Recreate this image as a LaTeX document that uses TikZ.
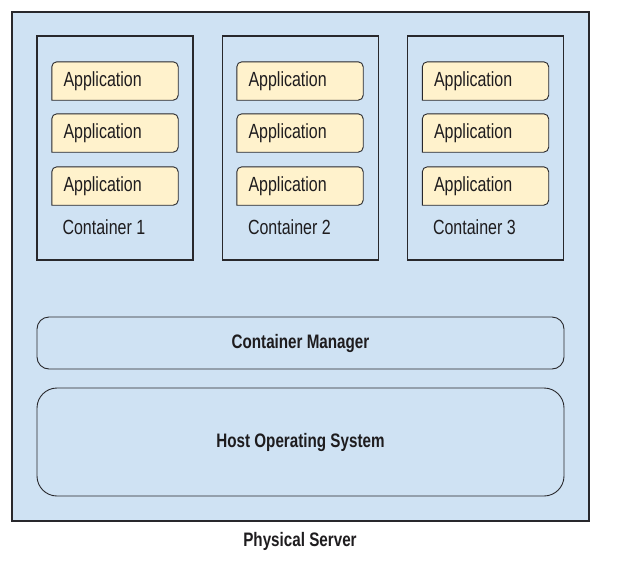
\documentclass[tikz,border=0pt]{standalone}
\usepackage{xcolor}
\usepackage{fontspec}
\setmainfont[FakeStretch=0.78]{Liberation Sans}
\usepackage{tikz}

\definecolor{serverblue}{RGB}{207,226,243}
\definecolor{appyellow}{RGB}{255,242,204}
\definecolor{edgegray}{RGB}{40,40,44}
\definecolor{inkgray}{RGB}{30,28,30}

\begin{document}
\begin{tikzpicture}[x=1pt, y=-1pt, text=inkgray,
		every node/.style={font=\fontsize{20.5}{23}\selectfont},
		server/.style={rectangle, draw=edgegray, line width=1.8pt, fill=serverblue, minimum width=577pt, minimum height=509pt, inner sep=0pt},
		container/.style={rectangle, draw=edgegray, line width=1.3pt, minimum width=156pt, minimum height=224pt, inner sep=0pt},
		app/.style={rectangle, minimum height=38pt, inner xsep=11.5pt, inner ysep=0pt, text width=103pt, align=left},
		appline/.style={draw=edgegray, line width=0.9pt, fill=appyellow},
		layer/.style={rectangle, draw=edgegray, line width=0.9pt, minimum width=527pt, inner sep=0pt, font=\fontsize{19.5}{23}\selectfont\bfseries}]
		\useasboundingbox (0,0) rectangle (623,562);
		\node[server] at (300.5,266.5) (srv){};
		\node[font=\fontsize{19.5}{23}\selectfont\bfseries] at (300,541) (srvlabel){Physical Server};

		\node[container] at (115,148)   (c1){};
		\node[container] at (300.5,148) (c2){};
		\node[container] at (485.5,148) (c3){};
		\node[anchor=base west, inner sep=0pt] at ([xshift=26pt,yshift=26pt]c1.south west) (c1label){Container 1};
		\node[anchor=base west, inner sep=0pt] at ([xshift=26pt,yshift=26pt]c2.south west) (c2label){Container 2};
		\node[anchor=base west, inner sep=0pt] at ([xshift=26pt,yshift=26pt]c3.south west) (c3label){Container 3};

		% application boxes, only the lower left corner is square
		\foreach \name/\x/\y in {a11/115/81, a12/115/133, a13/115/186,
				a21/300/81, a22/300/133, a23/300/186,
				a31/485.5/81, a32/485.5/133, a33/485.5/186}{
			\node[app] at (\x,\y) (\name){};
			\path[appline] (\name.south west) [rounded corners=5pt] -- (\name.north west) -- (\name.north east) -- (\name.south east) [sharp corners] -- cycle;
			\node[app] at (\x,\y) (\name text){Application};
		}

		\node[layer, rounded corners=12pt, minimum height=52pt]  at (300.5,343) (mgr){Container Manager};
		\node[layer, rounded corners=20pt, minimum height=108pt] at (300.5,442) (hostos){Host Operating System};

	\end{tikzpicture}
\end{document}
